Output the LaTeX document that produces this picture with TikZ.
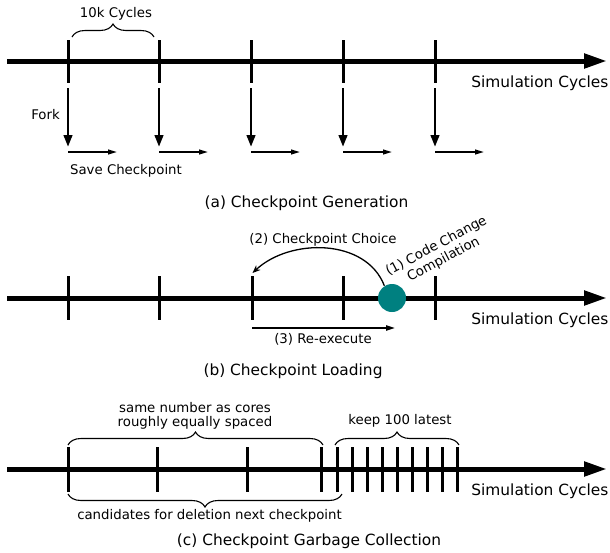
\documentclass[tikz,border=0pt]{standalone}
\usepackage{fontspec}
\setmainfont{DejaVu Sans}
\usetikzlibrary{arrows.meta,decorations.pathreplacing}
\definecolor{cteal}{RGB}{0,128,128}
\tikzset{
  axis/.style={line width=2.5pt,-{Triangle[length=11.5pt,width=7pt]}},
  tick/.style={line width=1.5pt},
  forkarrow/.style={line width=1.4pt,-{Triangle[length=6pt,width=4.2pt]}},
  savearrow/.style={line width=0.8pt,-{Triangle[length=4.5pt,width=2.4pt]}},
  thinarrow/.style={line width=0.8pt,-{Triangle[length=4.5pt,width=2.6pt]}},
  curvarrow/.style={line width=0.65pt,-{Stealth[length=4pt,width=3.2pt]}},
  bracedeco/.style={line width=0.55pt,decorate,decoration={brace,amplitude=6.5pt}},
  big/.style={font=\fontsize{7.7}{9}\selectfont,inner sep=0pt},
  small/.style={font=\fontsize{6.65}{7.6}\selectfont,inner sep=0pt},
  dot/.style={circle,fill=cteal,inner sep=0pt,minimum size=14pt}
}
\begin{document}
\begin{tikzpicture}[x=0.5pt,y=-0.5pt]
\useasboundingbox (0,0) rectangle (610,552);
% ---------------- (a) ----------------
\coordinate (aS) at (7,61);
\coordinate (aE) at (607,61);
\draw[axis] (aS) -- (aE);
\foreach \x [count=\i] in {68,159,251,343,435} {
  \coordinate (at\i) at (\x,40);
  \coordinate (ab\i) at (\x,83);
  \draw[tick] (at\i) -- (ab\i);
  \coordinate (fs\i) at (\x,88);
  \coordinate (fe\i) at (\x,147);
  \draw[forkarrow] (fs\i) -- (fe\i);
  \coordinate (ss\i) at (\x,152);
  \coordinate (se\i) at (\x+49,152);
  \draw[savearrow] (ss\i) -- (se\i);
}
\coordinate (brA1) at (72,37);
\coordinate (brA2) at (154,37);
\draw[bracedeco] (brA1) -- (brA2);
\node[small,anchor=base] (tenk) at (116,17) {10k Cycles};
\node[small,anchor=base] (fork) at (45.5,119) {Fork};
\node[small,anchor=base] (save) at (126,174) {Save Checkpoint};
\node[big,anchor=base west] (simA) at (471,87) {Simulation Cycles};
\node[big,anchor=base] (capA) at (306.5,207.5) {(a) Checkpoint Generation};
% ---------------- (b) ----------------
\coordinate (bS) at (7,298);
\coordinate (bE) at (607,298);
\draw[axis] (bS) -- (bE);
\foreach \x [count=\i] in {68,159,252,343,435} {
  \coordinate (bt\i) at (\x,276);
  \coordinate (bb\i) at (\x,320);
  \draw[tick] (bt\i) -- (bb\i);
}
\node[dot] (cc) at (392,298) {};
\coordinate (choiceEnd) at (252.5,273);
\draw[curvarrow] (cc.122) .. controls (366,238) and (290,238) .. (choiceEnd);
\coordinate (reS) at (252,328);
\coordinate (reE) at (395,328);
\draw[thinarrow] (reS) -- (reE);
\node[small,anchor=base] (choice) at (323,243) {(2) Checkpoint Choice};
\node[small,anchor=base] (reexec) at (323,343) {(3) Re-execute};
\node[small,rotate=28,align=center] (code) at (440,253) {(1) Code Change\\Compilation};
\node[big,anchor=base west] (simB) at (471,324) {Simulation Cycles};
\node[big,anchor=base] (capB) at (293,375) {(b) Checkpoint Loading};
% ---------------- (c) ----------------
\coordinate (cS) at (7,469);
\coordinate (cE) at (607,469);
\draw[axis] (cS) -- (cE);
\foreach \x [count=\i] in {68,157,247,321,337,352,367,382,397,412,427,442,457} {
  \coordinate (ct\i) at (\x,447);
  \coordinate (cb\i) at (\x,492);
  \draw[tick] (ct\i) -- (cb\i);
}
\coordinate (brC1) at (68,445);
\coordinate (brC2) at (323,445);
\draw[bracedeco] (brC1) -- (brC2);
\coordinate (brK1) at (335,445);
\coordinate (brK2) at (459,445);
\draw[bracedeco] (brK1) -- (brK2);
\coordinate (brD1) at (342,494);
\coordinate (brD2) at (68,494);
\draw[bracedeco] (brD1) -- (brD2);
\node[small,anchor=base] (same) at (195,412) {same number as cores};
\node[small,anchor=base] (rough) at (195,426) {roughly equally spaced};
\node[small,anchor=base] (keep) at (400,424) {keep 100 latest};
\node[small,anchor=base] (cand) at (209.5,519) {candidates for deletion next checkpoint};
\node[big,anchor=base west] (simC) at (471,495) {Simulation Cycles};
\node[big,anchor=base] (capC) at (309,545.5) {(c) Checkpoint Garbage Collection};
\end{tikzpicture}
\end{document}
